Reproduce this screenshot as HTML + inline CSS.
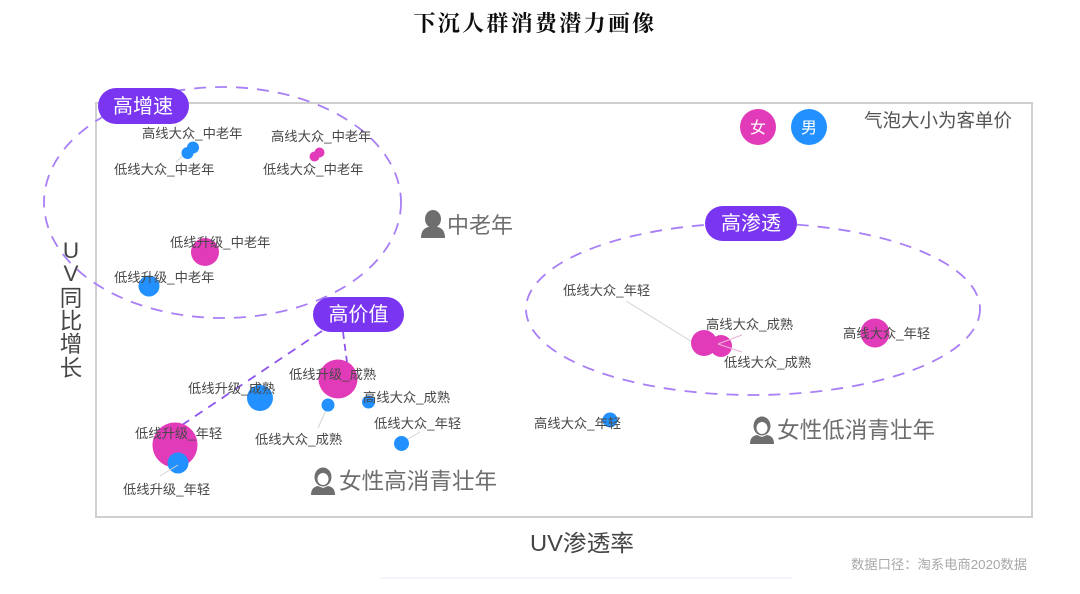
<!DOCTYPE html>
<html><head><meta charset="utf-8">
<style>
html,body{margin:0;padding:0;background:#fff;width:1080px;height:594px;overflow:hidden}
svg{display:block}
text{font-family:"Liberation Sans","Noto Sans CJK SC",sans-serif}
.l{font-size:13.3px;fill:#484848}
.p{font-size:20px;fill:#fff;text-anchor:middle}
.g{font-size:22.6px;fill:#6e6e6e}
.y{font-size:22.5px;fill:#444;text-anchor:middle}
</style></head><body>
<svg width="1080" height="594" viewBox="0 0 1080 594" xmlns="http://www.w3.org/2000/svg">
<defs><filter id="b" x="-5%" y="-5%" width="110%" height="110%"><feGaussianBlur stdDeviation="0.35"/></filter></defs>
<g filter="url(#b)">
<text x="535" y="31" text-anchor="middle" style="font-family:'Noto Serif CJK SC',serif;font-size:22px;font-weight:700;letter-spacing:2.3px;fill:#111">下沉人群消费潜力画像</text>

<rect x="96" y="103" width="936" height="414" fill="none" stroke="#cfcfcf" stroke-width="2"/>
<rect x="380" y="577" width="412" height="2" fill="#f6f5fd"/>

<ellipse cx="222.5" cy="202.5" rx="178.5" ry="115.5" fill="none" stroke="#a87ff5" stroke-width="1.8" stroke-dasharray="12 9"/>
<ellipse cx="753" cy="309" rx="227" ry="86" fill="none" stroke="#a87ff5" stroke-width="1.8" stroke-dasharray="12 9"/>
<line x1="322" y1="331" x2="182" y2="425" stroke="#8f55ee" stroke-width="1.8" stroke-dasharray="9 7"/>
<line x1="343" y1="332" x2="347" y2="362" stroke="#8f55ee" stroke-width="1.8" stroke-dasharray="7 5"/>

<!-- leader lines -->
<g stroke="#d4d4d4" stroke-width="1" fill="none">
<line x1="176" y1="162" x2="186" y2="153"/>
<line x1="626" y1="301" x2="694" y2="343"/>
<line x1="718" y1="344" x2="742" y2="335"/>
<line x1="718" y1="344" x2="742" y2="352"/>
<line x1="318" y1="428" x2="328" y2="406"/>
<line x1="401" y1="443" x2="420" y2="432"/>
</g>

<!-- bubbles -->
<circle cx="175" cy="445" r="22.5" fill="#e23ab9"/>
<circle cx="178" cy="463" r="10.5" fill="#2490ff"/>
<line x1="160" y1="476" x2="178" y2="465" stroke="#d4d4d4" stroke-width="1"/>
<circle cx="338" cy="379" r="19.5" fill="#e23ab9"/>
<circle cx="260" cy="398" r="13" fill="#2490ff"/>
<circle cx="328" cy="405" r="6.5" fill="#2490ff"/>
<circle cx="368.5" cy="402" r="6.5" fill="#2490ff"/>
<circle cx="401.5" cy="443.5" r="7.5" fill="#2490ff"/>
<circle cx="610" cy="420" r="7.5" fill="#2490ff"/>
<circle cx="205" cy="252" r="14" fill="#e23ab9"/>
<circle cx="149" cy="286" r="10.5" fill="#2490ff"/>
<circle cx="187.5" cy="153" r="6" fill="#2490ff"/>
<circle cx="193" cy="147.5" r="6" fill="#2490ff"/>
<circle cx="314.5" cy="156.5" r="5" fill="#e23ab9"/>
<circle cx="319.5" cy="152.5" r="5" fill="#e23ab9"/>
<circle cx="704" cy="343" r="13" fill="#e23ab9"/>
<circle cx="721" cy="346" r="11" fill="#e23ab9"/>
<circle cx="875" cy="333" r="14.5" fill="#e23ab9"/>
<line x1="718" y1="344" x2="742" y2="335" stroke="#e9b7dc" stroke-width="1"/>
<line x1="718" y1="344" x2="742" y2="352" stroke="#e9b7dc" stroke-width="1"/>

<!-- pills -->
<rect x="98" y="88" width="91" height="36" rx="18" fill="#7a35f0"/>
<text class="p" x="143" y="113">高增速</text>
<rect x="313" y="297" width="91" height="35" rx="17.5" fill="#7a35f0"/>
<text class="p" x="358.5" y="321">高价值</text>
<rect x="705" y="206" width="92" height="35" rx="17.5" fill="#7a35f0"/>
<text class="p" x="751" y="230">高渗透</text>

<!-- labels -->
<text class="l" x="142" y="138">高线大众_中老年</text>
<text class="l" x="271" y="141">高线大众_中老年</text>
<text class="l" x="114" y="174">低线大众_中老年</text>
<text class="l" x="263" y="174">低线大众_中老年</text>
<text class="l" x="170" y="247">低线升级_中老年</text>
<text class="l" x="114" y="282">低线升级_中老年</text>
<text class="l" x="188" y="393">低线升级_成熟</text>
<text class="l" x="289" y="379">低线升级_成熟</text>
<text class="l" x="363" y="402">高线大众_成熟</text>
<text class="l" x="374" y="428">低线大众_年轻</text>
<text class="l" x="135" y="438">低线升级_年轻</text>
<text class="l" x="255" y="444">低线大众_成熟</text>
<text class="l" x="123" y="494">低线升级_年轻</text>
<text class="l" x="563" y="295">低线大众_年轻</text>
<text class="l" x="706" y="329">高线大众_成熟</text>
<text class="l" x="724" y="367">低线大众_成熟</text>
<text class="l" x="843" y="338">高线大众_年轻</text>
<text class="l" x="534" y="428">高线大众_年轻</text>

<!-- legend -->
<circle cx="758" cy="127" r="18" fill="#e23ab9"/>
<text x="758" y="133" text-anchor="middle" style="font-size:16px;fill:#fff">女</text>
<circle cx="809" cy="127" r="18" fill="#2490ff"/>
<text x="809" y="133" text-anchor="middle" style="font-size:16px;fill:#fff">男</text>
<text x="864" y="127" style="font-size:18.5px;fill:#555">气泡大小为客单价</text>

<!-- group labels with person icons -->
<g fill="#6e6e6e">
<ellipse cx="433" cy="219" rx="8" ry="9"/><path d="M421 238q0-9 7-11h10q7 2 7 11z"/>
<ellipse cx="762" cy="426" rx="8.5" ry="9.5"/><path d="M750 444q0-8 7-9l5 2 5-2q7 1 7 9z"/>
<ellipse cx="323" cy="477" rx="8.5" ry="9.5"/><path d="M311 495q0-8 7-9l5 2 5-2q7 1 7 9z"/>
</g>
<ellipse cx="762" cy="428" rx="5.5" ry="6" fill="#fff"/>
<ellipse cx="323" cy="479" rx="5.5" ry="6" fill="#fff"/>
<text class="g" x="447" y="233" style="font-size:22px">中老年</text>
<text class="g" x="777" y="438">女性低消青壮年</text>
<text class="g" x="339" y="489">女性高消青壮年</text>

<!-- axes -->
<text x="530" y="551" textLength="104" lengthAdjust="spacingAndGlyphs" style="font-size:23px;fill:#444">UV渗透率</text>
<text class="y" x="71" y="258">U</text>
<text class="y" x="71" y="281">V</text>
<text class="y" x="71" y="306">同</text>
<text class="y" x="71" y="329">比</text>
<text class="y" x="71" y="352">增</text>
<text class="y" x="71" y="376">长</text>
<text x="851" y="569" textLength="176" lengthAdjust="spacingAndGlyphs" style="font-size:13px;fill:#a8a8a8">数据口径：淘系电商2020数据</text>
</g>
</svg>
</body></html>
